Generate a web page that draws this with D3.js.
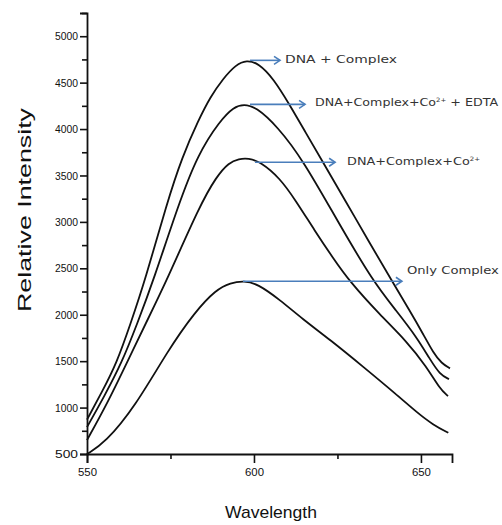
<!DOCTYPE html>
<html>
<head>
<meta charset="utf-8">
<script src="https://cdn.jsdelivr.net/npm/d3@7"></script>
<style>
  body { margin: 0; background: #fff; }
  svg { display: block; }
</style>
</head>
<body>
<svg id="chart" width="502" height="525"></svg>
<script>
// Emission spectra: [wavelength, relative intensity]
const dnaComplex = [
  [550, 870], [554.5, 1170], [558.9, 1480], [563, 1900], [567.4, 2370], [573.9, 3200],
  [578.5, 3700], [583.3, 4090], [587, 4350], [590.8, 4545], [594.5, 4690], [597.8, 4745],
  [601.5, 4705], [605.8, 4545], [610.8, 4255], [615.5, 3960], [620.7, 3640], [627.5, 3220],
  [634.7, 2770], [641.2, 2370], [646.7, 2040], [650.7, 1790], [653.7, 1590], [656.2, 1475],
  [658.7, 1422]
];
const dnaComplexCoEdta = [
  [550, 790], [555, 1110], [560.4, 1480], [565, 1900], [569.9, 2370], [577.3, 3180],
  [583.2, 3730], [589.8, 4090], [594, 4240], [597, 4268], [600.5, 4240], [607, 4030],
  [614.8, 3660], [625, 3010], [635.7, 2355], [642.7, 2040], [648.7, 1760], [652.7, 1520],
  [655.7, 1355], [658.4, 1307]
];
const dnaComplexCo = [
  [550, 650], [556, 1040], [561.9, 1480], [567.5, 1900], [573.9, 2370], [583.8, 3180],
  [588.8, 3490], [592.5, 3640], [595.5, 3680], [598.3, 3688], [602, 3645], [607.8, 3470],
  [612.5, 3230], [618.3, 2900], [623.5, 2620], [628.7, 2355], [637.7, 2000], [645.7, 1715],
  [651.7, 1440], [655.7, 1200], [658.1, 1124]
];
const onlyComplex = [
  [550, 500], [555.4, 620], [564.4, 1010], [574.3, 1620], [582.3, 2030], [588.6, 2270],
  [593, 2345], [597, 2365], [601, 2335], [607.8, 2160], [614.5, 1955], [622.8, 1730],
  [632.7, 1440], [642.7, 1140], [648.7, 950], [653.7, 812], [658.2, 729]
];
const seriesList = [dnaComplex, dnaComplexCoEdta, dnaComplexCo, onlyComplex];

// Arrow annotations: from wavelength, to wavelength, at intensity
const arrowFrom = [598.8, 598.8, 600.3, 596.7];
const arrowTo = [607.8, 615.3, 624.3, 644.3];
const arrowAt = [4740, 4266, 3642, 2361];

const yMajorTicks = [500, 1000, 1500, 2000, 2500, 3000, 3500, 4000, 4500, 5000];
const yMinorTicks = [750, 1250, 1750, 2250, 2750, 3250, 3750, 4250, 4750, 5250];
const xMajorTicks = [550, 600, 650];
const xMinorTicks = [575, 625];

const svg = d3.select("#chart");
const x = d3.scaleLinear().domain([550, 659.3]).range([87, 452]);
const y = d3.scaleLinear().domain([500, 5250]).range([454, 13]);

// axes
const yAxis = svg.append("g").attr("transform", `translate(${x(550)},0)`)
  .call(d3.axisLeft(y).tickValues(yMajorTicks).tickSize(7).tickPadding(2).tickFormat(d3.format("d")));
svg.append("g").attr("transform", `translate(${x(550)},0)`)
  .call(d3.axisLeft(y).tickValues(yMinorTicks).tickSize(5).tickFormat(""))
  .select(".domain").remove();
const xAxis = svg.append("g").attr("transform", `translate(0,${y(500)})`)
  .call(d3.axisBottom(x).tickValues(xMajorTicks).tickSize(9).tickPadding(5).tickFormat(d3.format("d")));
svg.append("g").attr("transform", `translate(0,${y(500)})`)
  .call(d3.axisBottom(x).tickValues(xMinorTicks).tickSize(5).tickFormat(""))
  .select(".domain").remove();

svg.selectAll(".domain").attr("stroke", "#111").attr("stroke-width", 1.8);
svg.selectAll(".tick line").attr("stroke", "#111").attr("stroke-width", 1.6);
yAxis.selectAll(".tick text")
  .attr("font-family", "Liberation Sans, Arial, sans-serif").attr("font-size", 11)
  .attr("fill", "#111").attr("textLength", 23).attr("lengthAdjust", "spacingAndGlyphs");
xAxis.selectAll(".tick text")
  .attr("font-family", "Liberation Sans, Arial, sans-serif").attr("font-size", 11)
  .attr("fill", "#111").attr("textLength", 19).attr("lengthAdjust", "spacingAndGlyphs");

// axis titles
svg.append("text")
  .attr("transform", `translate(31,210) rotate(-90)`)
  .attr("text-anchor", "middle")
  .attr("font-family", "Liberation Sans, Arial, sans-serif").attr("font-size", 19)
  .attr("fill", "#111").attr("textLength", 204).attr("lengthAdjust", "spacingAndGlyphs")
  .text("Relative Intensity");
svg.append("text")
  .attr("x", 271).attr("y", 518)
  .attr("text-anchor", "middle")
  .attr("font-family", "Liberation Sans, Arial, sans-serif").attr("font-size", 17)
  .attr("fill", "#111").attr("textLength", 92).attr("lengthAdjust", "spacingAndGlyphs")
  .text("Wavelength");

// spectra
const line = d3.line()
  .x(d => x(d[0]))
  .y(d => y(d[1]))
  .curve(d3.curveBasis);

svg.append("g").selectAll("path")
  .data(seriesList)
  .join("path")
  .attr("d", line)
  .attr("fill", "none")
  .attr("stroke", "#111")
  .attr("stroke-width", 1.8);

// arrows
const blue = "#4a7ebb";
const arrows = svg.append("g");
arrowAt.forEach((v, i) => {
  const x0 = x(arrowFrom[i]), x1 = x(arrowTo[i]), yy = y(v);
  arrows.append("line")
    .attr("x1", x0).attr("x2", x1).attr("y1", yy).attr("y2", yy)
    .attr("stroke", blue).attr("stroke-width", 1.6);
  arrows.append("path")
    .attr("d", `M${x1 - 6},${yy - 4}L${x1},${yy}L${x1 - 6},${yy + 4}`)
    .attr("fill", "none").attr("stroke", blue).attr("stroke-width", 1.6);
});

// labels
const labelFont = "DejaVu Sans, Verdana, sans-serif";
function label(xPos, yPos, width, parts) {
  const t = svg.append("text")
    .attr("x", xPos).attr("y", yPos)
    .attr("font-family", labelFont).attr("font-size", 11)
    .attr("fill", "#333")
    .attr("textLength", width).attr("lengthAdjust", "spacingAndGlyphs");
  parts.forEach(p => {
    const s = t.append("tspan").text(p.t);
    if (p.sup) s.attr("font-size", 6).attr("dy", -4);
    if (p.after) s.attr("dy", 4);
  });
}
label(x(arrowTo[0]) + 5, y(arrowAt[0]) + 3, 112, [{ t: "DNA +  Complex" }]);
label(x(arrowTo[1]) + 10, y(arrowAt[1]) + 2, 183,
  [{ t: "DNA+Complex+Co" }, { t: "2+", sup: true }, { t: " + EDTA", after: true }]);
label(x(arrowTo[2]) + 12, y(arrowAt[2]) + 3, 133,
  [{ t: "DNA+Complex+Co" }, { t: "2+", sup: true }]);
label(x(arrowTo[3]) + 5, y(arrowAt[3]) - 7, 92, [{ t: "Only Complex" }]);
</script>
</body>
</html>
